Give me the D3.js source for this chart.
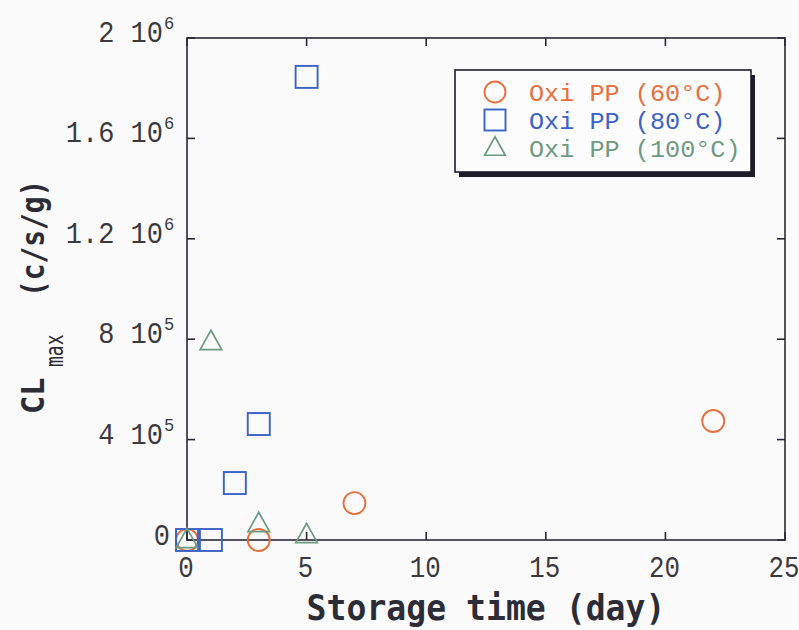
<!DOCTYPE html>
<html>
<head>
<meta charset="utf-8">
<script src="https://cdn.jsdelivr.net/npm/d3@7"></script>
<style>
  html, body { margin: 0; padding: 0; background: #fafafa; }
  svg { display: block; }
</style>
</head>
<body>
<svg id="chart" width="799" height="630"></svg>
<script>
// Storage time (days) and maximum chemiluminescence CL_max (c/s/g)
const days60  = [0, 3, 7, 22];
const cl60    = [0, 0, 147000, 474000];
const days80  = [0, 1, 2, 3, 5];
const cl80    = [0, 0, 227000, 462000, 1845000];
const days100 = [0, 1, 3, 5];
const cl100   = [0, 789000, 64000, 20000];

const seriesNames = ["Oxi PP (60\u00b0C)", "Oxi PP (80\u00b0C)", "Oxi PP (100\u00b0C)"];
const xTicks = [0, 5, 10, 15, 20, 25];
const yTicks = [0, 400000, 800000, 1200000, 1600000, 2000000];
const yTickMant = ["0", "4", "8", "1.2", "1.6", "2"];
const yTickExp  = ["", "5", "5", "6", "6", "6"];

const colors = ["#e6703e", "#3c62c6", "#6e9a80"];
const shapes = ["circle", "square", "triangle"];

const MONO = "'Liberation Mono', 'DejaVu Sans Mono', monospace";
const MONO_B = "'DejaVu Sans Mono', 'Liberation Mono', monospace";

const svg = d3.select("#chart");
const pLeft = 187, pRight = 785, pTop = 38, pBottom = 540;

const x = d3.scaleLinear().domain([0, 25]).range([pLeft, pRight]);
const y = d3.scaleLinear().domain([0, 2000000]).range([pBottom, pTop]);

const axisColor = "#2a2838";
const labelColor = "#3a3a3e";

// frame
svg.append("rect")
  .attr("x", pLeft).attr("y", pTop)
  .attr("width", pRight - pLeft).attr("height", pBottom - pTop)
  .attr("fill", "none").attr("stroke", axisColor).attr("stroke-width", 1.6);

// inward ticks on all four sides
const tl = 8;
const g = svg.append("g").attr("stroke", axisColor).attr("stroke-width", 1.6);
xTicks.forEach(t => {
  g.append("line").attr("x1", x(t)).attr("x2", x(t)).attr("y1", pBottom).attr("y2", pBottom - tl);
  g.append("line").attr("x1", x(t)).attr("x2", x(t)).attr("y1", pTop).attr("y2", pTop + tl);
});
yTicks.forEach(t => {
  g.append("line").attr("x1", pLeft).attr("x2", pLeft + tl).attr("y1", y(t)).attr("y2", y(t));
  g.append("line").attr("x1", pRight).attr("x2", pRight - tl).attr("y1", y(t)).attr("y2", y(t));
});

// x tick labels
svg.append("g").selectAll("text").data(xTicks).join("text")
  .attr("text-anchor", "middle")
  .attr("font-size", 30).attr("fill", labelColor)
  .style("font-family", MONO)
  .attr("transform", d => `translate(${x(d) - 1},${pBottom + 37}) scale(0.86,1)`)
  .text(d => d);

// y tick labels: mantissa, then 10 with a superscript exponent
yTicks.forEach((t, i) => {
  const baseY = y(t) + 4;
  if (yTickExp[i]) {
    svg.append("text")
      .attr("text-anchor", "end")
      .attr("font-size", 30).attr("fill", labelColor)
      .style("font-family", MONO)
      .attr("transform", `translate(163,${baseY}) scale(0.9,1)`)
      .text(yTickMant[i] + " 10");
    svg.append("text")
      .attr("text-anchor", "start")
      .attr("font-size", 19).attr("fill", labelColor)
      .style("font-family", MONO)
      .attr("transform", `translate(164,${baseY - 13}) scale(0.9,1)`)
      .text(yTickExp[i]);
  } else {
    svg.append("text")
      .attr("text-anchor", "end")
      .attr("font-size", 30).attr("fill", labelColor)
      .style("font-family", MONO)
      .attr("transform", `translate(170,${baseY + 1}) scale(0.9,1)`)
      .text(yTickMant[i]);
  }
});

// x axis title
svg.append("text")
  .attr("text-anchor", "middle")
  .attr("font-size", 36).attr("font-weight", "bold").attr("fill", "#2c2c36")
  .style("font-family", MONO_B)
  .attr("transform", "translate(486,620) scale(0.92,1)")
  .text("Storage time (day)");

// y axis title, rotated: CL with subscript "max", then the unit
const yTitle = svg.append("g").attr("transform", "translate(44,414) rotate(-90)");
yTitle.append("text")
  .attr("font-size", 32).attr("font-weight", "bold").attr("fill", "#2c2c36")
  .style("font-family", MONO_B)
  .attr("transform", "scale(0.95,1)")
  .text("CL");
yTitle.append("text")
  .attr("font-size", 25).attr("fill", "#2c2c36")
  .style("font-family", MONO_B)
  .attr("transform", "translate(47,19) scale(0.72,1)")
  .text("max");
yTitle.append("text")
  .attr("font-size", 32).attr("font-weight", "bold").attr("fill", "#2c2c36")
  .style("font-family", MONO_B)
  .attr("transform", "translate(117,0) scale(0.87,1)")
  .text("(c/s/g)");

// marker drawing
function drawMarker(sel, shape, color, size) {
  if (shape === "circle") {
    sel.append("circle").attr("r", size / 2)
      .attr("fill", "none").attr("stroke", color).attr("stroke-width", 1.9);
  } else if (shape === "square") {
    sel.append("rect").attr("x", -size / 2).attr("y", -size / 2)
      .attr("width", size).attr("height", size)
      .attr("fill", "none").attr("stroke", color).attr("stroke-width", 1.9);
  } else {
    const h = size * 0.88, w = size * 0.98;
    sel.append("path")
      .attr("d", `M0,${-h / 2 - 2}L${w / 2},${h / 2 - 2}L${-w / 2},${h / 2 - 2}Z`)
      .attr("fill", "none").attr("stroke", color).attr("stroke-width", 1.7);
  }
}

const series = [
  { xs: days60, ys: cl60 },
  { xs: days80, ys: cl80 },
  { xs: days100, ys: cl100 }
];

series.forEach((s, si) => {
  const pts = s.xs.map((d, i) => ({ d, v: s.ys[i] }));
  svg.append("g").selectAll("g").data(pts).join("g")
    .attr("transform", p => `translate(${x(p.d)},${y(p.v)})`)
    .each(function () { drawMarker(d3.select(this), shapes[si], colors[si], 22); });
});

// legend with drop shadow
const lx = 455, ly = 70, lw = 296, lh = 102;
svg.append("rect").attr("x", lx + 4).attr("y", ly + 5).attr("width", lw).attr("height", lh)
  .attr("fill", "#1e1c28");
svg.append("rect").attr("x", lx).attr("y", ly).attr("width", lw).attr("height", lh)
  .attr("fill", "#fcfcfc").attr("stroke", "#1e1c28").attr("stroke-width", 1.6);

seriesNames.forEach((name, i) => {
  const cy = ly + 22 + i * 28;
  const m = svg.append("g").attr("transform", `translate(${lx + 40},${cy})`);
  drawMarker(m, shapes[i], colors[i], 21);
  svg.append("text")
    .attr("transform", `translate(${lx + 74},${cy + 9}) scale(1.05,1)`)
    .attr("font-size", 24).attr("fill", colors[i])
    .style("font-family", MONO)
    .text(name);
});
</script>
</body>
</html>
